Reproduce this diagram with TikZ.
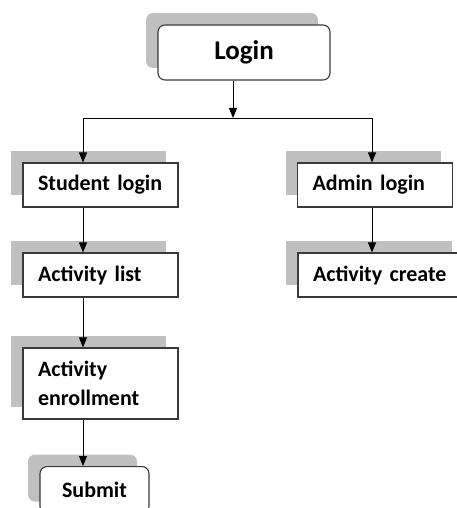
\documentclass[tikz,border=0pt]{standalone}
\usepackage{fontspec}
\setmainfont{Carlito}
\usepackage{tikz}
\usetikzlibrary{arrows.meta,shadows}
\definecolor{boxEdge}{HTML}{3A3A3A}
\definecolor{shadeGray}{HTML}{C0C0C0}

\begin{document}
\begin{tikzpicture}[x=1pt, y=-1pt,
      every node/.style={font=\fontsize{22}{29}\selectfont\bfseries},
      stepbox/.style={draw=boxEdge, line width=1.1pt, fill=white, align=left,
            inner xsep=15pt, inner ysep=0pt, text width=#1-30pt, minimum height=44pt,
            general shadow={shadow xshift=-12pt, shadow yshift=12pt, fill=shadeGray}},
      roundbox/.style={stepbox=#1, rounded corners=7pt, align=center},
      arr/.style={-{Triangle[length=10pt,width=8pt]}, line width=0.9pt}]
      \useasboundingbox (0,0) rectangle (457,508);
      \clip (0,0) rectangle (457,508);

      % Top
      \node[roundbox=172pt, minimum height=55pt, font=\fontsize{27}{30}\selectfont\bfseries] (login) at (244,52.5) {Login};
      \coordinate (split) at (233,118);
      \coordinate (splitL) at (83,118);
      \coordinate (splitR) at (372,118);

      % Student side
      \node[stepbox=155pt] (student) at (100.5,185) {Student login};
      \node[stepbox=155pt] (actlist) at (100.5,275) {Activity list};
      \node[stepbox=155pt, minimum height=71pt] (enroll) at (100.5,383.5) {Activity\\enrollment};
      \node[roundbox=109pt, minimum height=47pt, anchor=north] (submit) at (94.5,466) {Submit};

      % Admin side
      \node[stepbox=155pt] (admin) at (375,185) {Admin login};
      \node[stepbox=166pt] (create) at (381,275) {Activity create};

      % Connectors
      \draw[arr] (login.south -| split) -- (split);
      \draw[line width=0.9pt] (splitL) -- (splitR);
      \draw[arr] (splitL) -- (student.north -| splitL);
      \draw[arr] (splitR) -- (admin.north -| splitR);
      \draw[arr] (student.south -| splitL) -- (actlist.north -| splitL);
      \draw[arr] (actlist.south -| splitL) -- (enroll.north -| splitL);
      \draw[arr] (enroll.south -| splitL) -- (submit.north -| splitL);
      \draw[arr] (admin.south -| splitR) -- (create.north -| splitR);
\end{tikzpicture}
\end{document}
